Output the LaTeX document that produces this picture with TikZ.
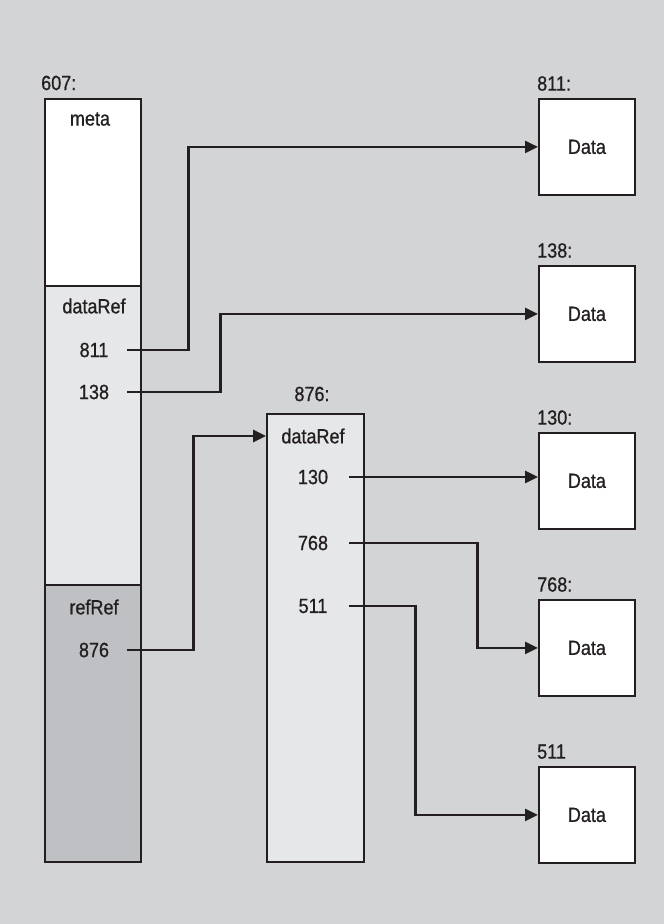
\documentclass[tikz,border=0pt]{standalone}
\usepackage{fontspec}
\setmainfont[FakeStretch=0.88,FakeBold=0.8]{Liberation Sans}
\usetikzlibrary{arrows.meta}
\definecolor{bgcol}{HTML}{D3D4D6}
\definecolor{lightcol}{HTML}{E6E7E9}
\definecolor{darkcol}{HTML}{BFC0C4}
\definecolor{inkcol}{HTML}{231F20}
\tikzset{
    every node/.style={font=\fontsize{20.5}{24}\selectfont, text=inkcol},
    cell/.style={draw=inkcol, line width=1.8pt, inner sep=0pt, anchor=north west},
    databox/.style={cell, fill=white, minimum width=96pt, minimum height=96pt},
    slot/.style={inner sep=0pt, minimum width=#1},
    link/.style={draw=inkcol, line width=2.6pt, -{Triangle[length=13pt,width=12pt]}}
}
\begin{document}
\begin{tikzpicture}[x=1pt,y=-1pt]
    % background
    \fill[bgcol] (0,0) rectangle (664,924);
    % object 607
    \node[cell, fill=white, minimum width=96pt, minimum height=187pt] (meta) at (44,98) {};
    \node[cell, fill=lightcol, minimum width=96pt, minimum height=299pt] (refs) at (44,285) {};
    \node[cell, fill=darkcol, minimum width=96pt, minimum height=277pt] (rrefs) at (44,584) {};
    \node[anchor=west, inner sep=0pt] (lbl607) at (41,83) {607:};
    \node (tmeta) at (90,119) {meta};
    \node (tdr1) at (94,306) {dataRef};
    \node[slot=66pt] (r811) at (94,350) {811};
    \node[slot=66pt] (r138) at (94,392) {138};
    \node (trr) at (94,607) {refRef};
    \node[slot=66pt] (r876) at (94,650) {876};
    % object 876
    \node[cell, fill=lightcol, minimum width=97pt, minimum height=448pt] (n876) at (266,413) {};
    \node (lbl876) at (312,394) {876:};
    \node (tdr2) at (313,436) {dataRef};
    \node[slot=72pt] (r130) at (313,477) {130};
    \node[slot=72pt] (r768) at (313,543) {768};
    \node[slot=72pt] (r511) at (313,606) {511};
    % data blocks
    \node[databox] (d811) at (538,98) {};
    \node[databox] (d138) at (538,265) {};
    \node[databox] (d130) at (538,432) {};
    \node[databox] (d768) at (538,599) {};
    \node[databox] (d511) at (538,766) {};
    \foreach \n/\t in {d811/811:, d138/138:, d130/130:, d768/768:, d511/511}{
        \node[anchor=south west, inner sep=0pt] (lbl\n) at ([xshift=-1pt,yshift=7pt]\n.north west) {\t};
        \node (t\n) at (\n.center) {Data};
    }
    % references
    \draw[link] (r811.east) -- ++(61,0) |- (d811.west);
    \draw[link] (r138.east) -- ++(93,0) |- (d138.west);
    \draw[link] (r876.east) -- ++(66,0) |- (tdr2 -| n876.west);
    \draw[link] (r130.east) -- (r130.east -| d130.west);
    \draw[link] (r768.east) -- ++(128,0) |- (d768.west);
    \draw[link] (r511.east) -- ++(66,0) |- (d511.west);
\end{tikzpicture}
\end{document}
